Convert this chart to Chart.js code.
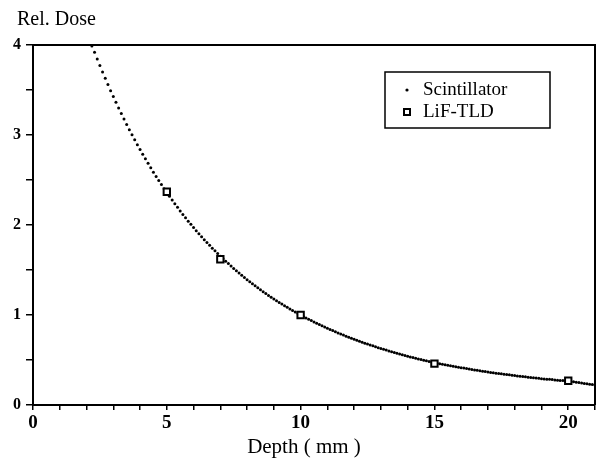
<!DOCTYPE html>
<html>
<head>
<meta charset="utf-8">
<script src="https://cdn.jsdelivr.net/npm/chart.js@4.4.0/dist/chart.umd.min.js"></script>
<style>
  html, body { margin: 0; padding: 0; background: #fff; overflow: hidden; }
  #wrap { width: 597px; height: 459px; }
  canvas { display: block; }
</style>
</head>
<body>
<div id="wrap"><canvas id="doseChart" width="597" height="459"></canvas></div>
<script>
// Scintillator readings, depth in mm
const scintDepth = [
  2.2, 2.3, 2.4, 2.5, 2.6, 2.7, 2.8, 2.9,
  3.0, 3.1, 3.2, 3.3, 3.4, 3.5, 3.6, 3.7, 3.8, 3.9,
  4.0, 4.1, 4.2, 4.3, 4.4, 4.5, 4.6, 4.7, 4.8, 4.9,
  5.0, 5.1, 5.2, 5.3, 5.4, 5.5, 5.6, 5.7, 5.8, 5.9,
  6.0, 6.1, 6.2, 6.3, 6.4, 6.5, 6.6, 6.7, 6.8, 6.9,
  7.0, 7.1, 7.2, 7.3, 7.4, 7.5, 7.6, 7.7, 7.8, 7.9,
  8.0, 8.1, 8.2, 8.3, 8.4, 8.5, 8.6, 8.7, 8.8, 8.9,
  9.0, 9.1, 9.2, 9.3, 9.4, 9.5, 9.6, 9.7, 9.8, 9.9,
  10.0, 10.1, 10.2, 10.3, 10.4, 10.5, 10.6, 10.7, 10.8, 10.9,
  11.0, 11.1, 11.2, 11.3, 11.4, 11.5, 11.6, 11.7, 11.8, 11.9,
  12.0, 12.1, 12.2, 12.3, 12.4, 12.5, 12.6, 12.7, 12.8, 12.9,
  13.0, 13.1, 13.2, 13.3, 13.4, 13.5, 13.6, 13.7, 13.8, 13.9,
  14.0, 14.1, 14.2, 14.3, 14.4, 14.5, 14.6, 14.7, 14.8, 14.9,
  15.0, 15.1, 15.2, 15.3, 15.4, 15.5, 15.6, 15.7, 15.8, 15.9,
  16.0, 16.1, 16.2, 16.3, 16.4, 16.5, 16.6, 16.7, 16.8, 16.9,
  17.0, 17.1, 17.2, 17.3, 17.4, 17.5, 17.6, 17.7, 17.8, 17.9,
  18.0, 18.1, 18.2, 18.3, 18.4, 18.5, 18.6, 18.7, 18.8, 18.9,
  19.0, 19.1, 19.2, 19.3, 19.4, 19.5, 19.6, 19.7, 19.8, 19.9,
  20.0, 20.1, 20.2, 20.3, 20.4, 20.5, 20.6, 20.7, 20.8, 20.9,
  21.0
];
const scintDose = [
  3.990, 3.920, 3.845, 3.772, 3.700, 3.630, 3.561, 3.493,
  3.427, 3.363, 3.300, 3.238, 3.177, 3.117, 3.059, 3.002, 2.946, 2.892,
  2.839, 2.787, 2.736, 2.685, 2.636, 2.587, 2.540, 2.494, 2.449, 2.404,
  2.361, 2.319, 2.277, 2.236, 2.196, 2.156, 2.118, 2.080, 2.043, 2.007,
  1.972, 1.937, 1.903, 1.870, 1.837, 1.805, 1.774, 1.743, 1.713, 1.683,
  1.654, 1.626, 1.598, 1.571, 1.544, 1.517, 1.491, 1.466, 1.441, 1.417,
  1.393, 1.370, 1.347, 1.324, 1.302, 1.280, 1.259, 1.238, 1.218, 1.198,
  1.178, 1.159, 1.140, 1.121, 1.103, 1.085, 1.067, 1.050, 1.033, 1.016,
  1.000, 0.984, 0.968, 0.953, 0.938, 0.923, 0.909, 0.894, 0.880, 0.866,
  0.853, 0.840, 0.827, 0.814, 0.801, 0.789, 0.777, 0.765, 0.753, 0.742,
  0.730, 0.719, 0.708, 0.698, 0.687, 0.677, 0.667, 0.657, 0.647, 0.637,
  0.628, 0.619, 0.610, 0.601, 0.592, 0.583, 0.575, 0.566, 0.558, 0.550,
  0.542, 0.534, 0.527, 0.519, 0.512, 0.505, 0.498, 0.491, 0.484, 0.477,
  0.470, 0.464, 0.458, 0.453, 0.447, 0.441, 0.436, 0.431, 0.425, 0.420,
  0.415, 0.410, 0.405, 0.400, 0.395, 0.390, 0.385, 0.380, 0.376, 0.371,
  0.366, 0.362, 0.358, 0.354, 0.350, 0.346, 0.342, 0.338, 0.335, 0.331,
  0.327, 0.323, 0.320, 0.316, 0.313, 0.309, 0.306, 0.303, 0.299, 0.296,
  0.293, 0.290, 0.287, 0.285, 0.282, 0.279, 0.276, 0.273, 0.271, 0.268,
  0.265, 0.261, 0.257, 0.253, 0.249, 0.245, 0.240, 0.236, 0.231, 0.227,
  0.222
];
// LiF-TLD readings
const tldDepth = [5, 7, 10, 15, 20];
const tldDose = [2.37, 1.62, 1.00, 0.46, 0.27];

const xTickLabels = [0, 5, 10, 15, 20];
const yTickLabels = [0, 1, 2, 3, 4];

const serif = '"Liberation Serif", "DejaVu Serif", serif';

function toPoints(xs, ys) {
  return xs.map(function (x, i) { return { x: x, y: ys[i] }; });
}

// frame, axis titles and legend box
const decor = {
  id: 'decor',
  afterDraw: function (chart) {
    const ctx = chart.ctx;
    const a = chart.chartArea;
    ctx.save();
    ctx.strokeStyle = '#000';
    ctx.lineWidth = 2;
    ctx.beginPath();
    ctx.moveTo(a.left, a.top);
    ctx.lineTo(a.right, a.top);
    ctx.lineTo(a.right, a.bottom);
    ctx.stroke();

    ctx.fillStyle = '#000';
    ctx.font = '20px ' + serif;
    ctx.textAlign = 'left';
    ctx.textBaseline = 'alphabetic';
    ctx.fillText('Rel. Dose', 17, 25);

    ctx.font = '21px ' + serif;
    ctx.textAlign = 'center';
    ctx.fillText('Depth ( mm )', 304, 453);

    // legend
    ctx.textAlign = 'left';
    ctx.lineWidth = 1.5;
    ctx.strokeRect(385, 72, 165, 56);
    ctx.beginPath();
    ctx.arc(407, 90, 1.6, 0, Math.PI * 2);
    ctx.fill();
    ctx.lineWidth = 2;
    ctx.fillStyle = '#fff';
    ctx.fillRect(404, 109, 6, 6);
    ctx.strokeRect(404, 109, 6, 6);
    ctx.fillStyle = '#000';
    ctx.font = '19px ' + serif;
    ctx.textBaseline = 'middle';
    const ds = chart.data.datasets;
    ctx.fillText(ds[1].label, 423, 90);
    ctx.fillText(ds[0].label, 423, 112);
    ctx.restore();
  }
};

new Chart(document.getElementById('doseChart'), {
  type: 'scatter',
  data: {
    datasets: [
      {
        label: 'LiF-TLD',
        data: toPoints(tldDepth, tldDose),
        pointStyle: 'rect',
        pointRadius: 4.5,
        backgroundColor: '#fff',
        borderColor: '#000',
        borderWidth: 2,
        order: 1
      },
      {
        label: 'Scintillator',
        data: toPoints(scintDepth, scintDose),
        pointStyle: 'circle',
        pointRadius: 1.5,
        backgroundColor: '#000',
        borderWidth: 0,
        order: 2
      }
    ]
  },
  options: {
    responsive: false,
    animation: false,
    events: [],
    layout: { autoPadding: false, padding: { top: 45, right: 2, left: 0, bottom: 0 } },
    plugins: { legend: { display: false }, tooltip: { enabled: false } },
    scales: {
      x: {
        type: 'linear',
        min: 0,
        max: 21,
        afterFit: function (s) {
          s.height = 54;
          s.paddingRight = 0;
          s.paddingLeft = 0;
        },
        border: { display: true, color: '#000', width: 2 },
        grid: { drawOnChartArea: false, drawTicks: true, tickLength: 5, color: '#000', lineWidth: 1.5 },
        ticks: {
          stepSize: 1,
          padding: 2,
          color: '#000',
          font: { family: serif, size: 19, weight: 'bold' },
          maxRotation: 0,
          autoSkip: false,
          callback: function (v) { return xTickLabels.indexOf(v) >= 0 ? String(v) : ''; }
        }
      },
      y: {
        type: 'linear',
        min: 0,
        max: 4,
        afterFit: function (s) {
          s.width = 33;
          s.paddingTop = 0;
          s.paddingBottom = 0;
        },
        border: { display: true, color: '#000', width: 2 },
        grid: { drawOnChartArea: false, drawTicks: true, tickLength: 7, color: '#000', lineWidth: 1.5 },
        ticks: {
          stepSize: 0.5,
          padding: 5,
          color: '#000',
          font: { family: serif, size: 16, weight: 'bold' },
          autoSkip: false,
          callback: function (v) { return yTickLabels.indexOf(v) >= 0 ? String(v) : ''; }
        }
      }
    }
  },
  plugins: [decor]
});
</script>
</body>
</html>
